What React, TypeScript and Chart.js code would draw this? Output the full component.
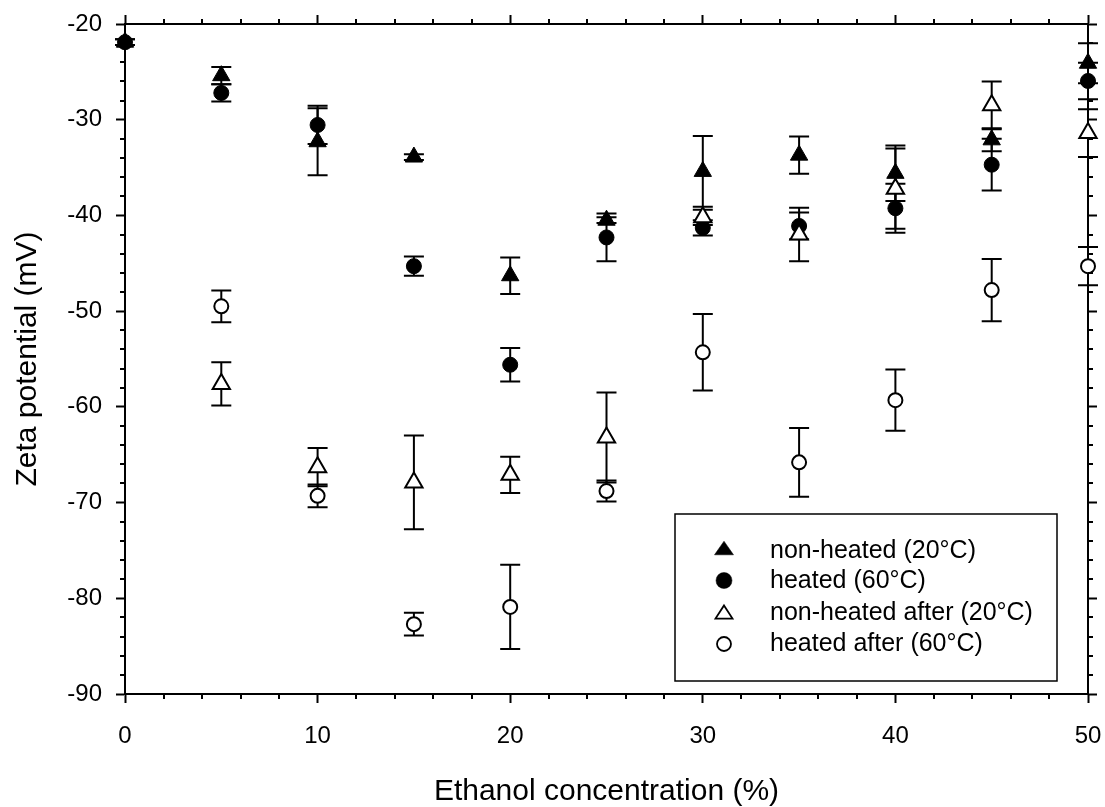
import React, { useEffect, useRef } from 'react';
import { Chart, registerables } from 'chart.js';

Chart.register(...registerables);

const FONT = 'Arial, "Liberation Sans", sans-serif';

// Ethanol concentration (%)
const concentrations = [0, 5, 10, 15, 20, 25, 30, 35, 40, 45, 50];

// Zeta potential (mV) and error bars
const nonHeated = [-21.9, -25.4, -32.3, -33.9, -46.3, -40.5, -35.4, -33.7, -35.6, -32.1, -24.1];
const nonHeatedErr = [0.3, 0.9, 3.5, 0.3, 1.9, 0.3, 3.7, 1.95, 2.9, 1.2, 2.1];

const heated = [-21.9, -27.2, -30.55, -45.3, -55.6, -42.3, -41.3, -41.1, -39.25, -34.7, -25.95];
const heatedErr = [0.3, 0.9, 2.0, 1.0, 1.75, 2.5, 0.8, 1.4, 2.55, 2.7, 1.9];

const nonHeatedAfter = [null, -57.6, -66.3, -67.9, -67.1, -63.2, -40.2, -42.0, -37.2, -28.5, -31.4];
const nonHeatedAfterErr = [null, 2.25, 2.0, 4.9, 1.9, 4.7, 0.8, 2.8, 4.2, 2.5, 2.5];

const heatedAfter = [null, -49.5, -69.3, -82.7, -80.9, -68.8, -54.3, -65.8, -59.3, -47.8, -45.3];
const heatedAfterErr = [null, 1.65, 1.2, 1.2, 4.4, 1.1, 4.0, 3.6, 3.2, 3.25, 2.0];

const seriesLabels = [
  'non-heated (20°C)',
  'heated (60°C)',
  'non-heated after (20°C)',
  'heated after (60°C)',
];

const xTitle = 'Ethanol concentration (%)';
const yTitle = 'Zeta potential (mV)';

function toPoints(vals: (number | null)[], errs: (number | null)[]) {
  const out: { x: number; y: number; err: number }[] = [];
  concentrations.forEach((x, i) => {
    const v = vals[i];
    if (v !== null && v !== undefined) out.push({ x, y: v, err: (errs[i] as number) || 0 });
  });
  return out;
}

const errorBarPlugin = {
  id: 'errorBars',
  beforeDatasetDraw(chart: any, args: any) {
    const ds = chart.data.datasets[args.index];
    const meta = args.meta;
    const yScale = chart.scales.y;
    const ctx = chart.ctx;
    ctx.save();
    ctx.strokeStyle = '#000';
    ctx.lineWidth = 2;
    meta.data.forEach((pt: any, i: number) => {
      const raw = ds.data[i];
      if (!raw || !raw.err) return;
      const x = pt.x;
      const yt = yScale.getPixelForValue(raw.y + raw.err);
      const yb = yScale.getPixelForValue(raw.y - raw.err);
      ctx.beginPath();
      ctx.moveTo(x, yt);
      ctx.lineTo(x, yb);
      ctx.moveTo(x - 10, yt);
      ctx.lineTo(x + 10, yt);
      ctx.moveTo(x - 10, yb);
      ctx.lineTo(x + 10, yb);
      ctx.stroke();
    });
    ctx.restore();
  },
};

const minorTickPlugin = {
  id: 'minorTicks',
  afterDraw(chart: any) {
    const ctx = chart.ctx;
    const xs = chart.scales.x;
    const ys = chart.scales.y;
    const { left, right, top, bottom } = chart.chartArea;
    ctx.save();
    ctx.strokeStyle = '#000';
    ctx.lineWidth = 2;
    ctx.beginPath();
    for (let v = 0; v <= 50; v += 2) {
      if (v % 10 === 0) continue;
      const px = Math.round(xs.getPixelForValue(v));
      ctx.moveTo(px, bottom);
      ctx.lineTo(px, bottom + 5);
      ctx.moveTo(px, top);
      ctx.lineTo(px, top - 5);
    }
    for (let v = -90; v <= -20; v += 2) {
      if (v % 10 === 0) continue;
      const py = Math.round(ys.getPixelForValue(v));
      ctx.moveTo(left, py);
      ctx.lineTo(left - 5, py);
      ctx.moveTo(right, py);
      ctx.lineTo(right + 5, py);
    }
    ctx.stroke();
    ctx.restore();
  },
};

const legendPlugin = {
  id: 'boxLegend',
  afterDraw(chart: any) {
    const ctx = chart.ctx;
    ctx.save();
    ctx.strokeStyle = '#000';
    ctx.lineWidth = 1.5;
    ctx.fillStyle = '#fff';
    ctx.fillRect(675, 514, 382, 167);
    ctx.strokeRect(675, 514, 382, 167);
    const mx = 724;
    const markerY = [548, 580.5, 612, 644];
    const textY = [551, 581.5, 613, 644];
    chart.data.datasets.forEach((ds: any, i: number) => {
      const y = markerY[i];
      const filled = ds.backgroundColor === '#000';
      ctx.beginPath();
      if (ds.pointStyle === 'triangle') {
        const hw = filled ? 9.5 : 8.5;
        const hh = filled ? 6.8 : 6.6;
        ctx.moveTo(mx, y - hh);
        ctx.lineTo(mx + hw, y + hh);
        ctx.lineTo(mx - hw, y + hh);
        ctx.closePath();
      } else {
        ctx.arc(mx, y, filled ? 8 : 7, 0, Math.PI * 2);
      }
      ctx.fillStyle = ds.backgroundColor;
      ctx.fill();
      ctx.lineWidth = filled ? 0.5 : 1.8;
      ctx.strokeStyle = '#000';
      ctx.stroke();
      ctx.fillStyle = '#000';
      ctx.font = `25px ${FONT}`;
      ctx.textAlign = 'left';
      ctx.textBaseline = 'middle';
      ctx.fillText(ds.label, 770, textY[i]);
    });
    ctx.restore();
  },
};

function zeroPadding(s: any) {
  s.paddingLeft = 0;
  s.paddingRight = 0;
  s.paddingTop = 0;
  s.paddingBottom = 0;
}

export default function App() {
  const canvasRef = useRef<HTMLCanvasElement | null>(null);

  useEffect(() => {
    if (!canvasRef.current) return;
    const datasets: any[] = [
      {
        label: seriesLabels[0],
        data: toPoints(nonHeated, nonHeatedErr),
        pointStyle: 'triangle',
        pointRadius: 10,
        backgroundColor: '#000',
        borderColor: '#000',
        borderWidth: 1,
        order: 3,
      },
      {
        label: seriesLabels[1],
        data: toPoints(heated, heatedErr),
        pointStyle: 'circle',
        pointRadius: 7.5,
        backgroundColor: '#000',
        borderColor: '#000',
        borderWidth: 1,
        order: 2,
      },
      {
        label: seriesLabels[2],
        data: toPoints(nonHeatedAfter, nonHeatedAfterErr),
        pointStyle: 'triangle',
        pointRadius: 10,
        backgroundColor: '#fff',
        borderColor: '#000',
        borderWidth: 2,
        order: 1,
      },
      {
        label: seriesLabels[3],
        data: toPoints(heatedAfter, heatedAfterErr),
        pointStyle: 'circle',
        pointRadius: 7,
        backgroundColor: '#fff',
        borderColor: '#000',
        borderWidth: 2,
        order: 0,
      },
    ].map((d) => ({ ...d, showLine: false, clip: false, pointHoverRadius: d.pointRadius }));

    const gridOpts = {
      display: true,
      drawOnChartArea: false,
      drawTicks: true,
      tickLength: 9,
      tickWidth: 2,
      tickColor: '#000',
    };
    const borderOpts = { display: true, color: '#000', width: 2 };

    const chart = new Chart(canvasRef.current, {
      type: 'scatter',
      data: { datasets },
      plugins: [errorBarPlugin, minorTickPlugin, legendPlugin],
      options: {
        animation: false,
        responsive: false,
        layout: { padding: 0 },
        plugins: { legend: { display: false }, tooltip: { enabled: false } },
        scales: {
          x: {
            type: 'linear',
            position: 'bottom',
            min: 0,
            max: 50,
            z: 1,
            ticks: { stepSize: 10, color: '#000', padding: 19, font: { family: FONT, size: 24 } },
            grid: gridOpts,
            border: borderOpts,
            title: {
              display: true,
              text: xTitle,
              color: '#000',
              font: { family: FONT, size: 30, lineHeight: 1 },
              padding: { top: 0, bottom: 0 },
            },
            afterFit: (s: any) => {
              s.height = 113;
              zeroPadding(s);
            },
          },
          x2: {
            type: 'linear',
            position: 'top',
            min: 0,
            max: 50,
            z: 1,
            ticks: { stepSize: 10, display: false },
            grid: gridOpts,
            border: borderOpts,
            afterFit: (s: any) => {
              s.height = 24;
              zeroPadding(s);
            },
          },
          y: {
            type: 'linear',
            position: 'left',
            min: -90,
            max: -20,
            z: 1,
            ticks: { stepSize: 10, color: '#000', padding: 14, font: { family: FONT, size: 24 } },
            grid: gridOpts,
            border: borderOpts,
            title: {
              display: true,
              text: yTitle,
              color: '#000',
              font: { family: FONT, size: 30, lineHeight: 1 },
              padding: { top: 13, bottom: 0 },
            },
            afterFit: (s: any) => {
              s.width = 125;
              zeroPadding(s);
            },
          },
          y2: {
            type: 'linear',
            position: 'right',
            min: -90,
            max: -20,
            z: 1,
            ticks: { stepSize: 10, display: false },
            grid: gridOpts,
            border: borderOpts,
            afterFit: (s: any) => {
              s.width = 17;
              zeroPadding(s);
            },
          },
        },
      } as any,
    });
    return () => chart.destroy();
  }, []);

  return (
    <div style={{ position: 'fixed', left: 0, top: 0, width: 1105, height: 807, background: '#fff' }}>
      <canvas ref={canvasRef} width={1105} height={807} style={{ display: 'block' }} />
    </div>
  );
}
